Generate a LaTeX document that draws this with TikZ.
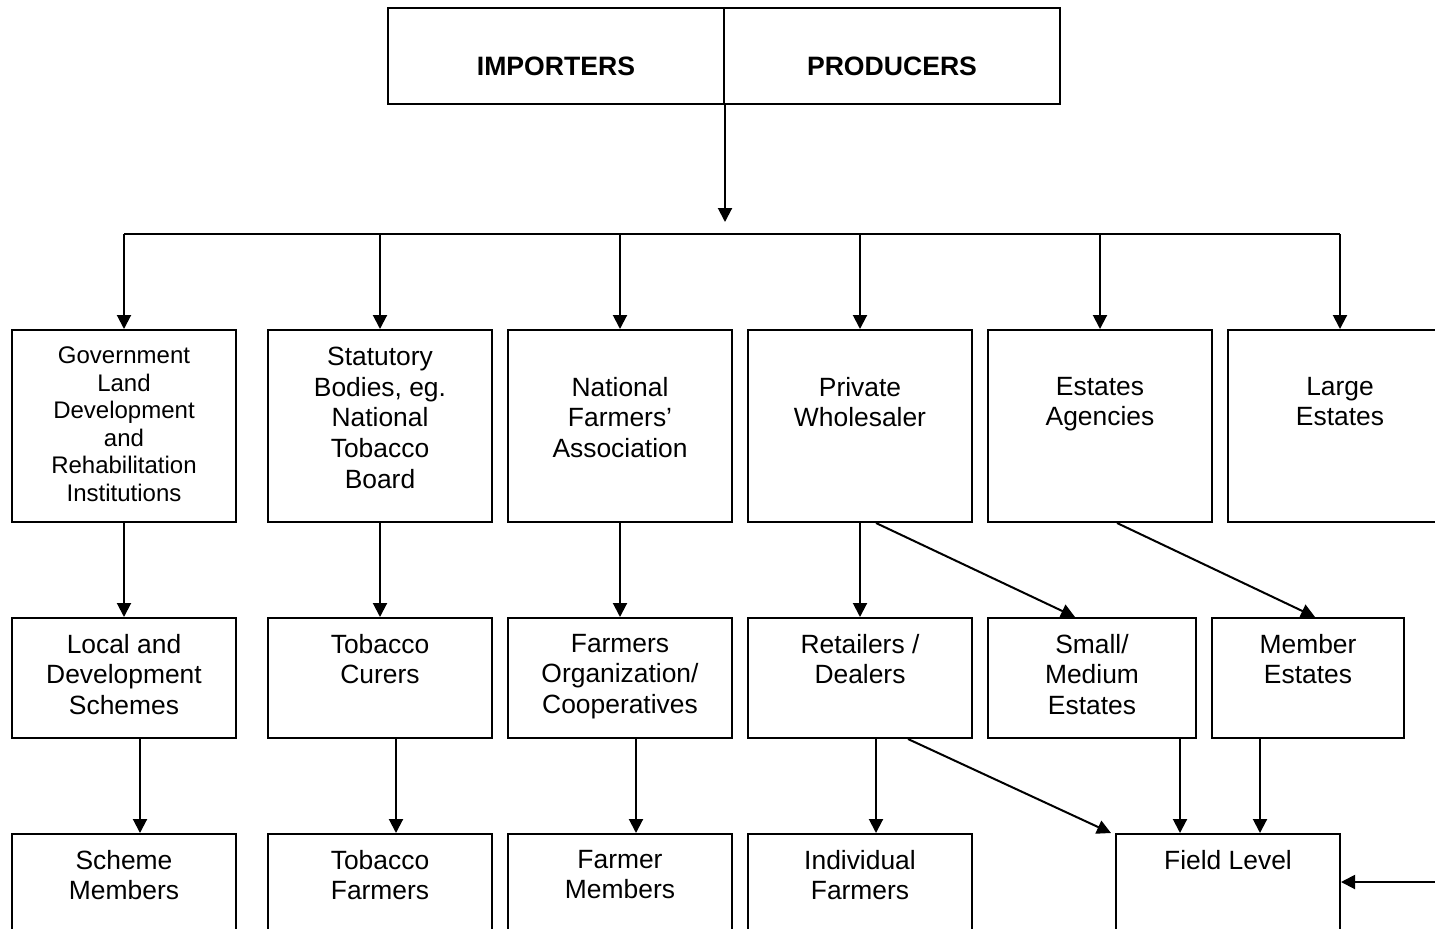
\documentclass[tikz,border=0pt]{standalone}
\usepackage{fontspec}
\setmainfont{Liberation Sans}
\usetikzlibrary{arrows.meta}
\begin{document}
\begin{tikzpicture}[x=0.5pt,y=-0.5pt,line width=1pt,
    box/.style={draw, inner sep=0, minimum width=112pt},
    txt/.style={anchor=north, align=center, inner sep=0, font=\fontsize{13.2}{15.35}\selectfont},
    small/.style={txt, font=\fontsize{12}{13.75}\selectfont},
    arr/.style={-{Triangle[length=7pt,width=7pt]}}]
    \useasboundingbox (0,0) rectangle (1435,928);
    \clip (0,0) rectangle (1435,928);
    % top
    \node[box, minimum width=168pt, minimum height=48pt] (imp) at (556,56) {};
    \node[box, minimum width=168pt, minimum height=48pt] (prod) at (892,56) {};
    \node[txt, font=\fontsize{13.3}{15.35}\selectfont\bfseries] (imptxt) at (556,56) {IMPORTERS};
    \node[txt, font=\fontsize{13.3}{15.35}\selectfont\bfseries] (prodtxt) at (892,56) {PRODUCERS};
    \coordinate (hub) at (724,222);
    \coordinate (bus) at (724,234);
    % first row
    \node[box, minimum height=96pt] (gov) at (124,426) {};
    \node[box, minimum height=96pt] (stat) at (380,426) {};
    \node[box, minimum height=96pt] (nat) at (620,426) {};
    \node[box, minimum height=96pt] (priv) at (860,426) {};
    \node[box, minimum height=96pt] (agen) at (1100,426) {};
    \node[box, minimum height=96pt] (large) at (1340,426) {};
    \node[small] (govtxt) at (124,346) {Government\\Land\\Development\\and\\Rehabilitation\\Institutions};
    \node[txt] (stattxt) at (380,346) {Statutory\\Bodies, eg.\\National\\Tobacco\\Board};
    \node[txt] (nattxt) at (620,376) {National\\Farmers’\\Association};
    \node[txt] (privtxt) at (860,376) {Private\\Wholesaler};
    \node[txt] (agentxt) at (1100,376) {Estates\\Agencies};
    \node[txt] (largetxt) at (1340,376) {Large\\Estates};
    % second row
    \node[box, minimum height=60pt] (local) at (124,678) {};
    \node[box, minimum height=60pt] (curers) at (380,678) {};
    \node[box, minimum height=60pt] (coop) at (620,678) {};
    \node[box, minimum height=60pt] (retail) at (860,678) {};
    \node[box, minimum height=60pt, minimum width=104pt] (medium) at (1092,678) {};
    \node[box, minimum height=60pt, minimum width=96pt] (member) at (1308,678) {};
    \node[txt] (localtxt) at (124,633) {Local and\\Development\\Schemes};
    \node[txt] (curerstxt) at (380,633) {Tobacco\\Curers};
    \node[txt] (cooptxt) at (620,633) {Farmers\\Organization/\\Cooperatives};
    \node[txt] (retailtxt) at (860,633) {Retailers /\\Dealers};
    \node[txt] (mediumtxt) at (1092,633) {Small/\\Medium\\Estates};
    \node[txt] (membertxt) at (1308,633) {Member\\Estates};
    % third row
    \node[box, minimum height=65pt] (scheme) at (124,899) {};
    \node[box, minimum height=65pt] (growers) at (380,899) {};
    \node[box, minimum height=65pt] (fmembers) at (620,899) {};
    \node[box, minimum height=65pt] (indiv) at (860,899) {};
    \node[box, minimum height=65pt] (field) at (1228,899) {};
    \node[txt] (schemetxt) at (124,849) {Scheme\\Members};
    \node[txt] (growerstxt) at (380,849) {Tobacco\\Farmers};
    \node[txt] (fmemberstxt) at (620,849) {Farmer\\Members};
    \node[txt] (indivtxt) at (860,849) {Individual\\Farmers};
    \node[txt] (fieldtxt) at (1228,849) {Field Level};
    \coordinate (outside) at (1445,882);
    % connectors
    \draw[arr] (imp.south east) -- (imp.south east |- hub);
    \draw (gov.north |- bus) -- (large.north |- bus);
    \foreach \b in {gov,stat,nat,priv,agen,large}
        \draw[arr] (\b.north |- bus) -- (\b.north);
    \draw[arr] (gov) -- (local);
    \draw[arr] (stat) -- (curers);
    \draw[arr] (nat) -- (coop);
    \draw[arr] (priv) -- (retail);
    \draw[arr] ([xshift=8pt]priv.south) -- ([xshift=-8.5pt]medium.north);
    \draw[arr] ([xshift=8.5pt]agen.south) -- ([xshift=3.5pt]member.north);
    \draw[arr] ([xshift=8pt]local.south) -- ([xshift=8pt]scheme.north);
    \draw[arr] ([xshift=8pt]curers.south) -- ([xshift=8pt]growers.north);
    \draw[arr] ([xshift=8pt]coop.south) -- ([xshift=8pt]fmembers.north);
    \draw[arr] ([xshift=8pt]retail.south) -- ([xshift=8pt]indiv.north);
    \draw[arr] ([xshift=24pt]retail.south) -- ([xshift=-2pt]field.north west);
    \draw[arr] ([xshift=44pt]medium.south) -- ([xshift=44pt]medium.south |- field.north);
    \draw[arr] ([xshift=-24pt]member.south) -- ([xshift=-24pt]member.south |- field.north);
    \draw[arr] (outside) -- (outside -| field.east);
\end{tikzpicture}
\end{document}
